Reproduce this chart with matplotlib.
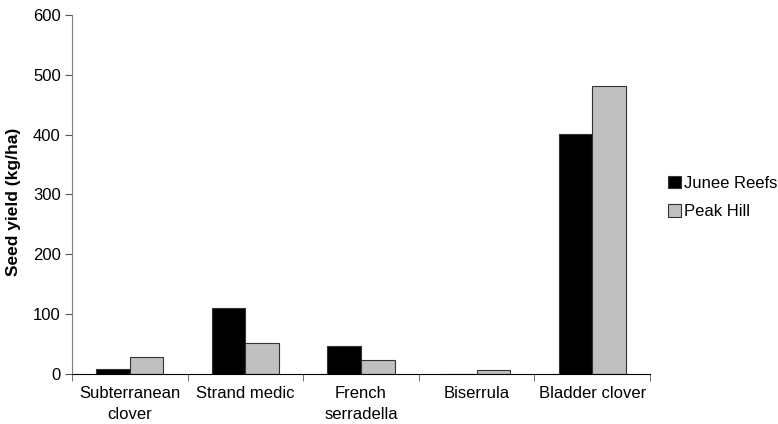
import matplotlib
matplotlib.use("Agg")
import matplotlib.pyplot as plt
import numpy as np

categories = ["Subterranean\nclover", "Strand medic", "French\nserradella", "Biserrula", "Bladder clover"]
junee_reefs = [8, 111, 47, 0, 401]
peak_hill = [28, 51, 23, 6, 481]
series_names = ["Junee Reefs", "Peak Hill"]

plt.rcParams['font.family'] = ['Liberation Sans', 'DejaVu Sans']

fig = plt.figure(figsize=(7.78, 4.24), dpi=100)
ax = fig.add_axes([0.0925, 0.118, 0.743, 0.8466])

x = np.arange(len(categories))
w = 0.29
ax.bar(x - w/2, junee_reefs, w, color='black', edgecolor='#333333', linewidth=0.8, label=series_names[0])
ax.bar(x + w/2, peak_hill, w, color='#c0c0c0', edgecolor='#333333', linewidth=0.8, label=series_names[1])

ax.set_xlim(-0.5, len(categories) - 0.5)
ax.set_ylim(0, 600)
ax.set_yticks(range(0, 601, 100))
ax.set_xticks(np.arange(len(categories) + 1) - 0.5, minor=True)
ax.set_xticks(x)
ax.set_xticklabels(categories, fontsize=12, linespacing=1.45)
ax.tick_params(axis='x', which='major', length=0, pad=9)
ax.tick_params(axis='x', which='minor', length=5, direction='out', color='#555555')
ax.tick_params(axis='y', length=5, direction='out', labelsize=12, color='#555555', pad=3)
ax.spines['top'].set_visible(False)
ax.spines['right'].set_visible(False)
ax.spines['left'].set_color('#808080')
ax.spines['bottom'].set_color('black')
ax.set_ylabel("Seed yield (kg/ha)", fontsize=12.5, fontweight='bold')
ax.yaxis.set_label_coords(-0.088, 0.48)

leg = fig.legend(loc='upper left', bbox_to_anchor=(668/778, 0.585), frameon=False, fontsize=12,
                 handlelength=0.75, handleheight=0.75, handletextpad=0.2, labelspacing=0.8,
                 borderpad=0, borderaxespad=0)

fig.savefig("out.png", dpi=100)
